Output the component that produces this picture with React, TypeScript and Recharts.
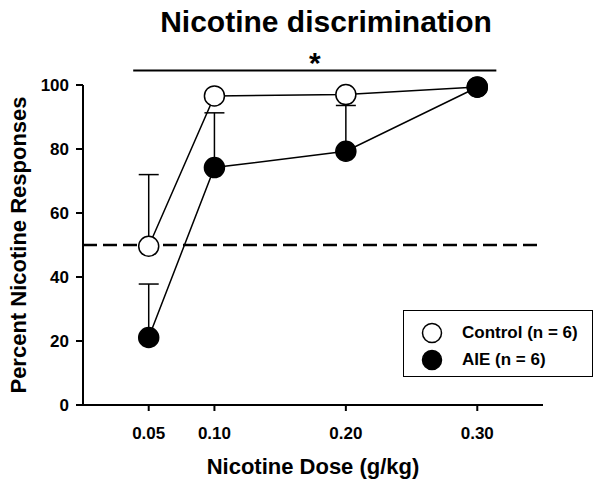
import { LineChart, Line, XAxis, YAxis, ReferenceLine, ErrorBar } from "recharts";

// dose (g/kg) and percent nicotine-lever responses
const doses = [0.05, 0.1, 0.2, 0.3];
const controlMean = [49.6, 96.6, 97.0, 99.4];
const controlSem = [22.4, 0, 0, 0];
const aieMean = [21.1, 74.2, 79.3, 99.3];
const aieSem = [16.7, 17.1, 14.3, 0];
const xTicks = [0.05, 0.1, 0.2, 0.3];
const yTicks = [0, 20, 40, 60, 80, 100];
const seriesNames = ["Control (n = 6)", "AIE (n = 6)"];

// significance bar above the plot
const sigFrom = 0.0382;
const sigTo = 0.3145;
const sigY = 104.5;

const data = doses.map((dose, i) => ({
  dose,
  control: controlMean[i],
  controlErr: [0, controlSem[i]],
  aie: aieMean[i],
  aieErr: [0, aieSem[i]],
}));

const FONT = '"Liberation Sans", Arial, sans-serif';

const dotFor = (fill: string) => (props: any) => {
  const { cx, cy, index } = props;
  if (cx == null || cy == null) return null;
  return <circle key={index} cx={cx} cy={cy} r={10} fill={fill} stroke="#000" strokeWidth={1.5} />;
};

const LegendBox = () => (
  <div
    style={{
      position: "absolute", left: 403, top: 310,
      border: "1.5px solid #000",
      width: 190,
      height: 67,
      boxSizing: "border-box",
      padding: "8px 0 0 17px",
      fontFamily: FONT,
      fontWeight: "bold",
      fontSize: 17,
      background: "#fff",
    }}
  >
    {seriesNames.map((name, i) => (
      <div key={name} style={{ display: "flex", alignItems: "center", height: 27 }}>
        <svg width={22} height={22} style={{ marginRight: 19 }}>
          <circle cx={11} cy={11} r={9.5} fill={i === 0 ? "#fff" : "#000"} stroke="#000" strokeWidth={1.5} />
        </svg>
        <span>{name}</span>
      </div>
    ))}
  </div>
);

export default function App() {
  const tick = { fill: "#000", fontSize: 17, fontWeight: "bold", fontFamily: FONT };
  return (
    <div style={{ position: "absolute", left: 0, top: 0, width: 602, height: 486, background: "#fff" }}>
      <div
        style={{
          position: "absolute", left: 0, top: 7, width: 652, textAlign: "center", lineHeight: "30px",
          fontFamily: FONT, fontWeight: "bold", fontSize: 30,
        }}
      >
        Nicotine discrimination
      </div>
      <LineChart width={602} height={486} data={data} margin={{ top: 85, right: 59, left: 0, bottom: 0 }}>
        <XAxis
          dataKey="dose" type="number" domain={[0, 0.35]} ticks={xTicks}
          tickFormatter={(v) => v.toFixed(2)}
          axisLine={{ stroke: "#000", strokeWidth: 2 }}
          tickLine={{ stroke: "#000", strokeWidth: 2 }} tickSize={6} tickMargin={16}
          tick={tick} height={81}
          label={{ value: "Nicotine Dose (g/kg)", position: "insideBottom", offset: 12, fill: "#000", fontSize: 22, fontWeight: "bold", fontFamily: FONT }}
        />
        <YAxis
          type="number" domain={[0, 100]} ticks={yTicks} width={83}
          axisLine={{ stroke: "#000", strokeWidth: 2 }}
          tickLine={{ stroke: "#000", strokeWidth: 2 }} tickSize={7} tickMargin={7}
          tick={tick}
          label={{ value: "Percent Nicotine Responses", angle: -90, position: "insideLeft", offset: 18, fill: "#000", fontSize: 22, fontWeight: "bold", fontFamily: FONT, style: { textAnchor: "middle" } }}
        />
        <ReferenceLine y={50} stroke="#000" strokeWidth={2.5} strokeDasharray="14 6" />
        <ReferenceLine
          segment={[{ x: sigFrom, y: sigY }, { x: sigTo, y: sigY }]}
          ifOverflow="visible" stroke="#000" strokeWidth={2}
          label={{ value: "*", position: "top", offset: -2, fill: "#000", fontSize: 30, fontWeight: "bold", fontFamily: FONT }}
        />
        <Line
          dataKey="control" stroke="#000" strokeWidth={1.5}
          dot={dotFor("#fff")} activeDot={false} isAnimationActive={false}
        >
          <ErrorBar dataKey="controlErr" direction="y" width={10} stroke="#000" strokeWidth={1.5} />
        </Line>
        <Line
          dataKey="aie" stroke="#000" strokeWidth={1.5}
          dot={dotFor("#000")} activeDot={false} isAnimationActive={false}
        >
          <ErrorBar dataKey="aieErr" direction="y" width={10} stroke="#000" strokeWidth={1.5} />
        </Line>
      </LineChart>
      <LegendBox />
    </div>
  );
}
